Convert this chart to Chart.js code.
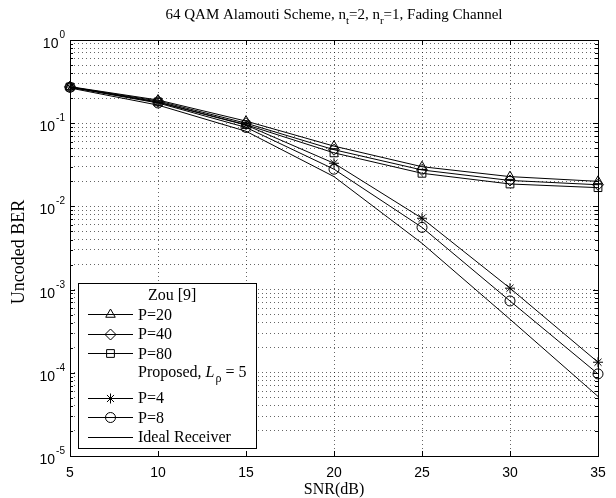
<!DOCTYPE html>
<html>
<head>
<meta charset="utf-8">
<script src="https://cdn.jsdelivr.net/npm/chart.js@4.4.0/dist/chart.umd.min.js"></script>
<style>
html, body { margin: 0; padding: 0; background: #fff; }
</style>
</head>
<body>
<canvas id="c" width="616" height="498"></canvas>
<script>
// SNR points (dB)
const snr = [5, 10, 15, 20, 25, 30, 35];

// Zou [9]
const zouP20 = [0.275, 0.190, 0.106, 0.053, 0.0300, 0.0228, 0.0200];
const zouP40 = [0.273, 0.185, 0.100, 0.048, 0.0274, 0.0205, 0.0182];
const zouP80 = [0.272, 0.180, 0.096, 0.044, 0.0250, 0.0186, 0.0168];
// Proposed, L_rho = 5
const propP4 = [0.272, 0.178, 0.095, 0.033, 0.0072, 0.00104, 0.000134];
const propP8 = [0.270, 0.175, 0.089, 0.028, 0.0056, 0.00073, 0.000097];
// Ideal receiver
const ideal = [0.265, 0.165, 0.080, 0.0228, 0.0036, 0.00044, 0.000052];

const xTicks = [5, 10, 15, 20, 25, 30, 35];
const yTickExps = [0, -1, -2, -3, -4, -5];
const yMinorMult = [2, 3, 4, 5, 6, 7, 8, 9];

const serif = '"Liberation Serif", "Times New Roman", serif';
const sans = '"Liberation Sans", Arial, sans-serif';

function series(label, ys, style, r) {
    return {
        label: label,
        data: snr.map((x, i) => ({x: x, y: ys[i]})),
        borderColor: '#000',
        borderWidth: 1,
        pointStyle: style,
        pointRadius: r,
        pointHoverRadius: r,
        pointBorderWidth: 1,
        pointBorderColor: '#000',
        pointBackgroundColor: 'rgba(0,0,0,0)',
        tension: 0,
        fill: false,
        clip: false
    };
}

const datasets = [
    series('P=20', zouP20, 'triangle', 5.5),
    series('P=40', zouP40, 'rectRot', 5.5),
    series('P=80', zouP80, 'rect', 5.5),
    series('P=4', propP4, 'star', 5),
    series('P=8', propP8, 'circle', 5),
    series('Ideal Receiver', ideal, false, 0)
];

function drawMarker(ctx, ds, x, y) {
    if (!ds.pointStyle || !ds.pointRadius) return;
    ctx.save();
    ctx.strokeStyle = '#000';
    ctx.fillStyle = 'rgba(0,0,0,0)';
    ctx.lineWidth = 1;
    Chart.helpers.drawPoint(ctx, {pointStyle: ds.pointStyle, radius: ds.pointRadius, rotation: 0, borderWidth: 1}, x, y);
    ctx.restore();
}

const decorations = {
    id: 'decorations',
    afterDatasetsDraw(chart) {
        const ctx = chart.ctx;
        const a = chart.chartArea;
        const xs = chart.scales.x, ys = chart.scales.y;
        ctx.save();
        ctx.strokeStyle = '#000';
        ctx.lineWidth = 1;
        ctx.setLineDash([]);

        // box
        ctx.strokeRect(Math.round(a.left) + 0.5, Math.round(a.top) + 0.5, Math.round(a.right - a.left), Math.round(a.bottom - a.top));

        // inward ticks
        ctx.beginPath();
        xTicks.forEach(v => {
            const px = Math.round(xs.getPixelForValue(v)) + 0.5;
            ctx.moveTo(px, a.bottom); ctx.lineTo(px, a.bottom - 5);
            ctx.moveTo(px, a.top); ctx.lineTo(px, a.top + 5);
        });
        ys.ticks.forEach(t => {
            const lg = Math.log10(t.value);
            const len = Math.abs(lg - Math.round(lg)) < 1e-9 ? 5 : 3;
            const py = Math.round(ys.getPixelForValue(t.value)) + 0.5;
            ctx.moveTo(a.left, py); ctx.lineTo(a.left + len, py);
            ctx.moveTo(a.right, py); ctx.lineTo(a.right - len, py);
        });
        ctx.stroke();

        // tick labels
        ctx.fillStyle = '#000';
        ctx.font = '14px ' + sans;
        ctx.textAlign = 'center';
        ctx.textBaseline = 'alphabetic';
        xTicks.forEach(v => ctx.fillText(String(v), xs.getPixelForValue(v), 477));

        ctx.textAlign = 'left';
        yTickExps.forEach(e => {
            const py = ys.getPixelForValue(Math.pow(10, e));
            const ex = String(e);
            ctx.font = '14px ' + sans;
            const w10 = ctx.measureText('10').width;
            ctx.font = '10px ' + sans;
            const we = ctx.measureText(ex).width;
            const x0 = 65 - w10 - we - 1;
            ctx.font = '14px ' + sans;
            ctx.fillText('10', x0, py + 8);
            ctx.font = '10px ' + sans;
            ctx.fillText(ex, x0 + w10 + 1, py - 2);
        });

        // axis titles
        ctx.font = '16px ' + serif;
        ctx.textAlign = 'center';
        ctx.fillText('SNR(dB)', (a.left + a.right) / 2, 494);
        ctx.save();
        ctx.translate(24, 252);
        ctx.rotate(-Math.PI / 2);
        ctx.font = '18px ' + serif;
        ctx.fillText('Uncoded BER', 0, 0);
        ctx.restore();

        // title with subscripts
        const parts = [
            ['64 QAM Alamouti Scheme, n', 0], ['t', 1], ['=2, n', 0], ['r', 1], ['=1, Fading Channel', 0]
        ];
        const fMain = '15px ' + serif, fSub = '11px ' + serif;
        let total = 0;
        parts.forEach(p => { ctx.font = p[1] ? fSub : fMain; total += ctx.measureText(p[0]).width; });
        let tx = (a.left + a.right) / 2 - total / 2;
        ctx.textAlign = 'left';
        parts.forEach(p => {
            ctx.font = p[1] ? fSub : fMain;
            ctx.fillText(p[0], tx, p[1] ? 24 : 19);
            tx += ctx.measureText(p[0]).width;
        });

        // legend
        const lx = 78, ly = 283, lw = 178, lh = 165;
        ctx.fillStyle = '#fff';
        ctx.fillRect(lx, ly, lw, lh);
        ctx.strokeStyle = '#000';
        ctx.strokeRect(lx + 0.5, ly + 0.5, lw, lh);
        ctx.fillStyle = '#000';
        ctx.font = '16px ' + serif;
        ctx.textAlign = 'left';

        const rowsY = [314, 333.5, 353, 397.5, 417, 436.5];
        const ds = chart.data.datasets;
        ds.forEach((d, i) => {
            const y = Math.round(rowsY[i]) + 0.5;
            ctx.beginPath();
            ctx.moveTo(88, y); ctx.lineTo(133, y);
            ctx.stroke();
            drawMarker(ctx, d, 110.5, y);
            ctx.font = '16px ' + serif;
            ctx.fillText(d.label, 138, rowsY[i] + 5.5);
        });
        ctx.fillText('Zou [9]', 148, 300);

        // Proposed, L_rho = 5
        let px = 138;
        const hy = 377;
        ctx.font = '16px ' + serif;
        ctx.fillText('Proposed, ', px, hy);
        px += ctx.measureText('Proposed, ').width;
        ctx.font = 'italic 16px ' + serif;
        ctx.fillText('L', px, hy);
        px += ctx.measureText('L').width;
        ctx.font = '12px ' + serif;
        ctx.fillText('\u03c1', px + 1, hy + 5);
        px += ctx.measureText('\u03c1').width + 1;
        ctx.font = '16px ' + serif;
        ctx.fillText(' = 5', px, hy);

        ctx.restore();
    }
};

new Chart(document.getElementById('c'), {
    type: 'line',
    data: {datasets: datasets},
    options: {
        responsive: false,
        devicePixelRatio: 1,
        animation: false,
        layout: {padding: {left: 70, top: 40, right: 18, bottom: 42}},
        plugins: {legend: {display: false}, tooltip: {enabled: false}, title: {display: false}},
        events: [],
        scales: {
            x: {
                type: 'linear',
                min: 5,
                max: 35,
                afterBuildTicks: s => { s.ticks = xTicks.map(v => ({value: v})); },
                ticks: {display: false},
                grid: {color: 'rgba(0,0,0,0.6)', lineWidth: 1, drawTicks: false},
                border: {display: false, dash: [1, 3]}
            },
            y: {
                type: 'logarithmic',
                min: 1e-5,
                max: 1,
                afterBuildTicks: s => {
                    const t = [];
                    yTickExps.slice().reverse().forEach(e => {
                        const base = Math.pow(10, e);
                        t.push({value: base});
                        if (e < 0) yMinorMult.forEach(m => t.push({value: m * base}));
                    });
                    s.ticks = t;
                },
                ticks: {display: false},
                grid: {color: 'rgba(0,0,0,0.6)', lineWidth: 1, drawTicks: false},
                border: {display: false, dash: [1, 3]}
            }
        }
    },
    plugins: [decorations]
});
</script>
</body>
</html>
